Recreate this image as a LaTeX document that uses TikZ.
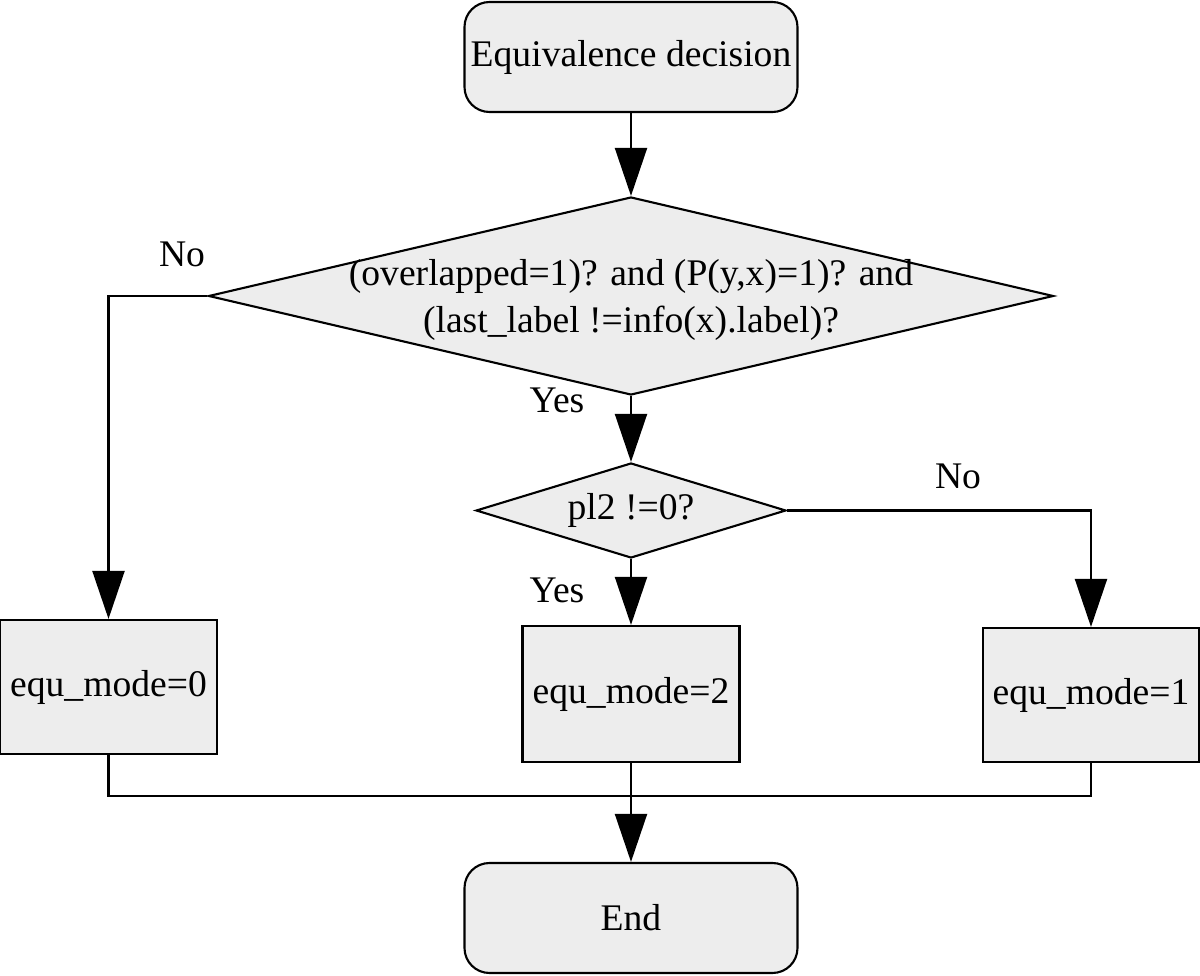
\documentclass[tikz,border=0pt]{standalone}
\usepackage{fontspec}
\setmainfont{Liberation Serif}
\usepackage{tikz}
\usetikzlibrary{positioning}
\usetikzlibrary{shapes.geometric}
\usetikzlibrary{arrows.meta}
\definecolor{boxgray}{RGB}{237,237,237}

\begin{document}
\begin{tikzpicture}[font=\fontsize{10.7}{13.4}\selectfont]
\useasboundingbox (0,0) rectangle (12,-9.76);

\begin{scope}[every node/.style={draw,fill=boxgray,line width=0.6pt,inner sep=0pt}]
    \node[rounded corners=0.25cm,minimum width=3.33cm,minimum height=1.10cm] (start) at (6.31,-0.57) {Equivalence decision};

    \node[diamond,minimum width=8.45cm,minimum height=1.98cm,
          label={[draw=none,fill=none,align=center,yshift=-0.04cm]center:{(overlapped=1)? and (P(y,x)=1)? and\\(last\_label !=info(x).label)?}}] (check) at (6.31,-2.96) {};

    \node[diamond,minimum width=3.10cm,minimum height=0.95cm,
          label={[draw=none,fill=none]center:{pl2 !=0?}}] (pltwo) at (6.31,-5.105) {};

    \node[minimum width=2.17cm,minimum height=1.34cm] (mode0) at (1.085,-6.87) {equ\_mode=0};
    \node[minimum width=2.17cm,minimum height=1.36cm] (mode2) at (6.31,-6.94) {equ\_mode=2};
    \node[minimum width=2.16cm,minimum height=1.34cm] (mode1) at (10.91,-6.95) {equ\_mode=1};

    \node[rounded corners=0.25cm,minimum width=3.33cm,minimum height=1.10cm] (finish) at (6.31,-9.18) {End};
\end{scope}

\begin{scope}[every node/.style={inner sep=0pt}]
    \node (no1) at (1.82,-2.54) {No};
    \node (yes1) at (5.57,-4.00) {Yes};
    \node (no2) at (9.58,-4.76) {No};
    \node (yes2) at (5.57,-5.90) {Yes};
\end{scope}

\coordinate (join) at (6.31,-7.96);

\begin{scope}[>={Triangle[length=4.8mm,width=3.2mm]},line width=0.6pt]
     \draw [->] (start) -- (check);
     \draw [->] (check.west) -| (mode0.north);
     \draw [->] (check.south) -- (pltwo.north);
     \draw [->] (pltwo.east) -| (mode1.north);
     \draw [->] (pltwo.south) -- (mode2.north);

     \draw (mode0.south) |- (join) -| (mode1.south);
     \draw [->] (mode2.south) -- (finish.north);
\end{scope}
\end{tikzpicture}
\end{document}
